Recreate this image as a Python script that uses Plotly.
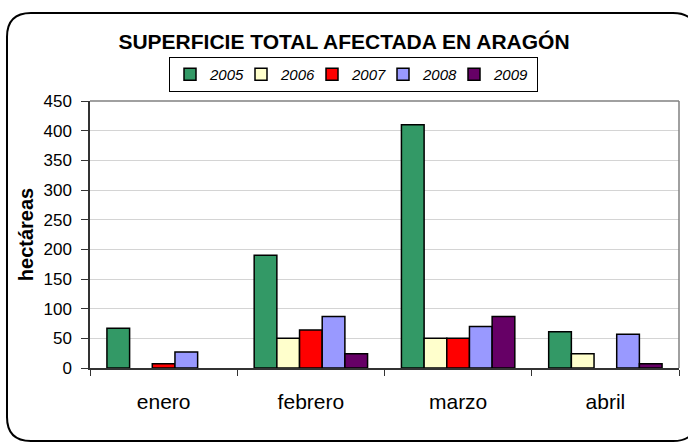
import plotly.graph_objects as go

months = ["enero", "febrero", "marzo", "abril"]
years = ["2005", "2006", "2007", "2008", "2009"]
v2005 = [67, 190, 410, 61]
v2006 = [None, 50, 50, 24]
v2007 = [7, 64, 50, None]
v2008 = [27, 87, 70, 57]
v2009 = [None, 24, 87, 7]
series = [v2005, v2006, v2007, v2008, v2009]
colors = ["#339966", "#FFFFCC", "#FF0000", "#9999FF", "#660066"]
yticks = [0, 50, 100, 150, 200, 250, 300, 350, 400, 450]

FONT = "Liberation Sans, Arial, sans-serif"
W, H = 688, 442
L, R, T, B = 90, 9, 101, 74
pw, ph = W - L - R, H - T - B

fig = go.Figure()
for i, (name, vals, c) in enumerate(zip(years, series, colors)):
    fig.add_trace(go.Bar(
        x=months, y=vals, name=name,
        legendwidth=26 if i < len(years) - 1 else 38,
        marker=dict(color=c, line=dict(color="#000000", width=1.5)),
    ))


def px2paper(xp, yp):
    return (xp - L) / pw, (H - B - yp) / ph


def P(x, y):
    a, b = px2paper(x, y)
    return f"{a:.5f},{b:.5f}"


# rounded outer frame
x0, y0, x1, y1, r = 7, 13, 697, 441, 24
path = (f"M{P(x0+r, y0)} L{P(x1-r, y0)} Q{P(x1, y0)} {P(x1, y0+r)} "
        f"L{P(x1, y1-r)} Q{P(x1, y1)} {P(x1-r, y1)} L{P(x0+r, y1)} "
        f"Q{P(x0, y1)} {P(x0, y1-r)} L{P(x0, y0+r)} Q{P(x0, y0)} {P(x0+r, y0)} Z")

shapes = [
    dict(type="path", xref="paper", yref="paper", path=path,
         line=dict(color="#000000", width=2), layer="below"),
    dict(type="line", xref="paper", yref="paper", x0=0, x1=1, y0=1, y1=1,
         line=dict(color="#808080", width=1.5)),
    dict(type="line", xref="paper", yref="paper", x0=1, x1=1, y0=0, y1=1,
         line=dict(color="#808080", width=1.5)),
]

lx, ly = px2paper(169, 57)

fig.update_layout(
    width=W, height=H,
    margin=dict(l=L, r=R, t=T, b=B, autoexpand=False),
    paper_bgcolor="white", plot_bgcolor="white",
    font=dict(family=FONT, color="#000000"),
    barmode="group", bargap=0.23, bargroupgap=0,
    title=dict(text="<b>SUPERFICIE TOTAL AFECTADA EN ARAGÓN</b>",
               font=dict(size=21, family=FONT), x=344 / W, xref="container",
               xanchor="center", y=1 - 42 / H, yanchor="middle"),
    showlegend=True,
    legend=dict(orientation="h", x=lx, y=ly, xanchor="left", yanchor="top",
                xref="paper", yref="paper",
                bordercolor="#000000", borderwidth=1,
                font=dict(size=15, family=FONT, style="italic"),
                entrywidthmode="pixels", traceorder="normal"),
    shapes=shapes,
    xaxis=dict(
        showline=True, linecolor="#333333", linewidth=1.5,
        ticks="outside", ticklen=6, tickcolor="#333333", tickwidth=1,
        tickson="boundaries", showgrid=False,
        tickfont=dict(size=21, family=FONT), ticklabelstandoff=14,
        automargin=False,
    ),
    yaxis=dict(
        range=[0, 450], tickvals=yticks, ticktext=[str(v) for v in yticks],
        showline=True, linecolor="#333333", linewidth=1.5,
        ticks="outside", ticklen=7, tickcolor="#333333", tickwidth=1,
        showgrid=True, gridcolor="#D4D4D4", gridwidth=1.2,
        zeroline=False,
        tickfont=dict(size=17, family=FONT), ticklabelstandoff=6,
        title=dict(text="<b>hectáreas</b>", font=dict(size=20, family=FONT),
                   standoff=4),
        automargin=False,
    ),
)

fig.write_html("out.html", config={"displayModeBar": False},
               post_script="document.body.style.margin='0';document.body.style.padding='0';")
